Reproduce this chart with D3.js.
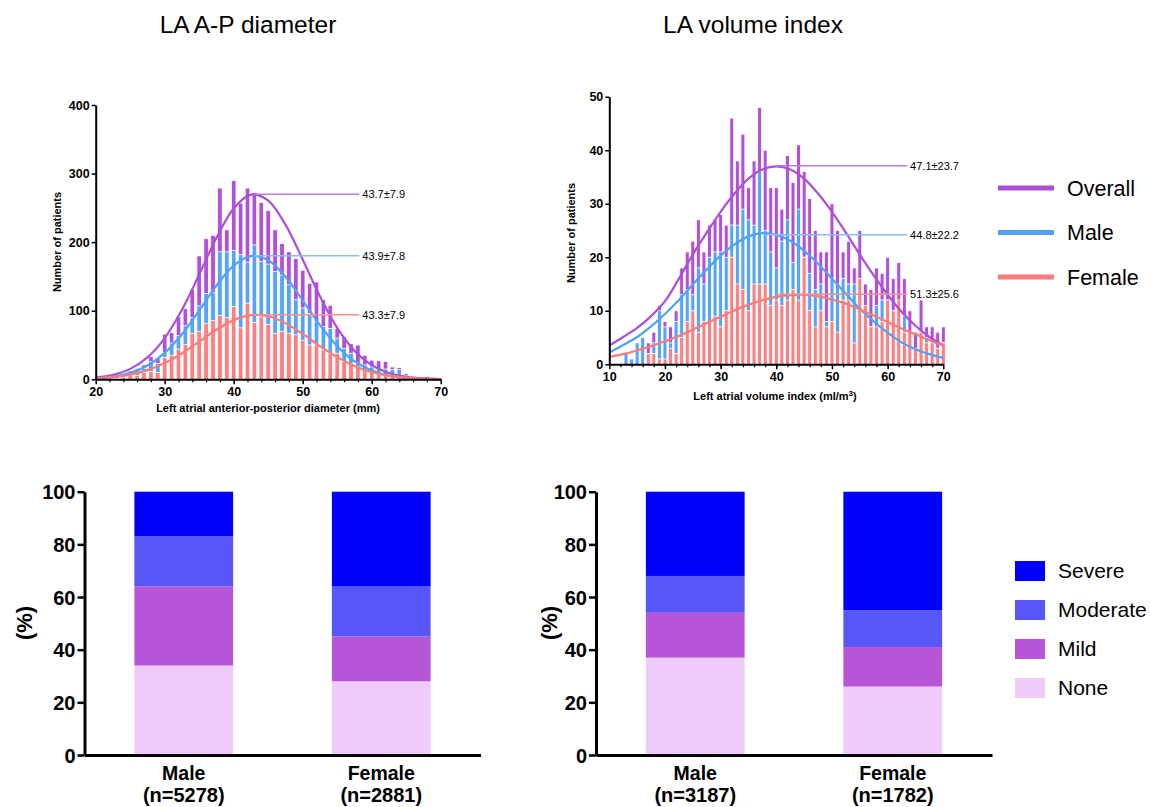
<!DOCTYPE html>
<html>
<head>
<meta charset="utf-8">
<script src="https://cdn.jsdelivr.net/npm/d3@7/dist/d3.min.js"></script>
<style>
body { margin: 0; background: #fff; }
svg { font-family: "Liberation Sans", Arial, Helvetica, sans-serif; }
</style>
</head>
<body>
<svg width="1151" height="807"></svg>
<script>
var svg = d3.select('svg');

// ---- LA A-P diameter histogram (patients per 1 mm bin) ----
var apBins    = [20,21,22,23,24,25,26,27,28,29,30,31,32,33,34,35,36,37,38,39,40,41,42,43,44,45,46,47,48,49,50,51,52,53,54,55,56,57,58,59,60,61,62,63,64,65,66,67,68,69,70];
var apOverall = [3,3,4,5,7,12,16,21,33,31,66,68,91,103,131,180,205,210,279,218,290,257,279,272,258,246,218,198,186,176,159,140,142,116,108,74,62,52,50,35,28,27,26,18,17,8,5,4,5,3,2];
var apMale    = [2,2,3,4,5,7,14,16,26,23,39,53,64,78,90,107,125,126,186,186,188,182,171,196,172,168,157,152,138,116,104,96,84,77,74,60,45,38,23,21,18,15,15,14,14,5,4,3,4,2,1];
var apFemale  = [1,1,1,1,2,6,6,10,11,10,32,35,44,51,67,70,81,86,93,90,106,75,111,83,91,80,67,70,67,65,57,50,50,43,38,38,26,23,18,14,11,8,6,5,4,3,2,1,1,1,1];

// fitted normal curves
var apFitX       = [20,22.5,25,27.5,30,32.5,35,37.5,40,42.5,45,47.5,50,52.5,55,57.5,60,62.5,65,67.5,70];
var apFitOverall = [2.4,6.4,15.2,31.9,60.1,101.3,152.8,206.3,249.2,269.4,260.6,225.5,174.6,121.1,75,41.7,20.7,9.2,3.7,1.3,0.4];
var apFitMale    = [1.4,3.9,9.3,20.1,38.5,65.8,100.3,136.6,165.8,179.6,173.5,149.6,115,78.9,48.3,26.4,12.9,5.6,2.2,0.8,0.2];
var apFitFemale  = [1.4,3.2,6.9,13.4,23.6,37.8,54.9,72.3,86.3,93.5,91.9,81.9,66.2,48.5,32.3,19.5,10.6,5.3,2.4,1,0.4];
var apPeakX   = [43, 43, 42.8];
var apPeakY   = [270, 180, 94];
var apStats   = ["43.7±7.9", "43.9±7.8", "43.3±7.9"];

// ---- LA volume index histogram (patients per 1 ml/m2 bin) ----
var laviBins    = [10,11,12,13,14,15,16,17,18,19,20,21,22,23,24,25,26,27,28,29,30,31,32,33,34,35,36,37,38,39,40,41,42,43,44,45,46,47,48,49,50,51,52,53,54,55,56,57,58,59,60,61,62,63,64,65,66,67,68,69,70];
var laviOverall = [0,0,0,2,1,4,5,4,6,11,8,7,10,18,21,23,27,21,26,27,28,26,46,38,43,33,38,48,40,33,33,29,39,34,41,36,31,25,21,21,30,25,21,23,18,25,15,14,18,17,20,16,19,16,10,6,12,7,7,6,7];
var laviMale    = [0,0,0,2,1,4,5,2,4,10,7,4,8,13,14,13,18,15,20,21,21,20,26,26,29,27,26,36,25,21,18,23,27,19,29,20,17,14,15,8,16,15,16,15,15,12,9,7,11,12,12,10,11,9,6,3,6,5,4,3,4];
var laviFemale  = [0,0,0,0,0,0,0,2,2,1,1,3,2,5,8,10,6,8,8,9,7,10,20,15,14,10,15,15,15,11,12,11,12,14,12,20,10,7,10,7,8,6,12,12,4,16,11,7,7,8,12,10,12,6,6,3,6,4,4,3,4];

var laviFitX       = [10,12.5,15,17.5,20,22.5,25,27.5,30,32.5,35,37.5,40,42.5,45,47.5,50,52.5,55,57.5,60,62.5,65,67.5,70];
var laviFitOverall = [3.5,5.1,6.8,9,11.8,16,20.5,24.6,28.5,31.9,34.7,36.4,37,36.4,34.7,31.9,28.5,24.6,20.5,16.6,13,9.8,7.2,5.1,3.5];
var laviFitMale    = [2.2,3.6,5.1,7.1,9.4,12,14.9,17.7,20.3,22.4,23.9,24.5,24.2,23.1,21.2,18.8,16,13.2,10.4,8,5.9,4.1,2.8,1.9,1.2];
var laviFitFemale  = [1.4,1.9,2.6,3.4,4.3,5.3,6.5,7.7,8.9,10.1,11.1,12,12.6,12.9,13,12.7,12.1,11.3,10.3,9.1,7.9,6.7,5.6,4.5,3.5];
var laviPeakX  = [40, 38, 40];
var laviPeakY  = [37.1, 24.2, 13.1];
var laviStats  = ["47.1±23.7", "44.8±22.2", "51.3±25.6"];

var seriesNames = ["Overall", "Male", "Female"];

// ---- LA enlargement grades (%) ----
var groups     = ["Male", "Female"];
var grades     = ["None", "Mild", "Moderate", "Severe"];
var apN        = ["(n=5278)", "(n=2881)"];
var apMalePct  = [34, 30, 19, 17];
var apFemPct   = [28, 17, 19, 36];
var laviN      = ["(n=3187)", "(n=1782)"];
var laviMalePct = [37, 17, 14, 32];
var laviFemPct  = [26, 15, 14, 45];

var barColors  = ["#b052d8", "#55a4f7", "#fd7f7f"];
var lineColors = ["#ac4fd6", "#4fa2f5", "#fb7a7a"];
var tagColors  = ["#c179e4", "#86bff9", "#ff8d8d"];
var gradeColors = { None: "#eecbf8", Mild: "#b755d8", Moderate: "#5757f8", Severe: "#0000fc" };

// titles
svg.append("text").attr("x", 248).attr("y", 33).attr("text-anchor", "middle")
    .style("font-size", "24.5px").text("LA A-P diameter");
svg.append("text").attr("x", 753).attr("y", 33).attr("text-anchor", "middle")
    .style("font-size", "24.5px").text("LA volume index");

function drawHist(o) {
    var x = d3.scaleLinear().domain(o.xDomain).range(o.xRange);
    var y = d3.scaleLinear().domain(o.yDomain).range(o.yRange);
    var g = svg.append("g");
    var series = [o.overall, o.male, o.female];

    series.forEach(function (vals, si) {
        g.append("g").selectAll("rect")
            .data(o.bins.map(function (b, i) { return { b: b, v: vals[i] }; }).filter(function (d) { return d.v > 0; }))
            .enter().append("rect")
            .attr("x", function (d) { return x(d.b) - o.bw / 2; })
            .attr("y", function (d) { return y(d.v); })
            .attr("width", o.bw)
            .attr("height", function (d) { return y(0) - y(d.v); })
            .attr("fill", barColors[si])
            .attr("stroke", "#fff")
            .attr("stroke-width", 0.8);
    });

    var line = d3.line().x(function (d) { return x(d[0]); }).y(function (d) { return y(d[1]); })
        .curve(d3.curveCatmullRom);
    [o.fitOverall, o.fitMale, o.fitFemale].forEach(function (vals, si) {
        g.append("path")
            .datum(o.fitX.map(function (v, i) { return [v, vals[i]]; }))
            .attr("d", line)
            .attr("fill", "none")
            .attr("stroke", lineColors[si])
            .attr("stroke-width", 2.2);
    });

    // mean ± SD tags
    o.peakX.forEach(function (px, i) {
        g.append("line")
            .attr("x1", x(px)).attr("x2", x(o.tagEnd))
            .attr("y1", y(o.peakY[i])).attr("y2", y(o.peakY[i]))
            .attr("stroke", tagColors[i]).attr("stroke-width", 1.5);
        g.append("text")
            .attr("x", x(o.tagEnd) + 3).attr("y", y(o.peakY[i])).attr("dy", "0.35em")
            .style("font-size", "11px").text(o.stats[i]);
    });

    var xMinor = g.append("g").attr("transform", "translate(0," + y(0) + ")")
        .call(d3.axisBottom(x).tickValues(o.minorTicks).tickSize(3).tickFormat(""));
    xMinor.select(".domain").remove();
    xMinor.selectAll("line").attr("stroke-width", 1.2);

    var xAxis = g.append("g").attr("transform", "translate(0," + y(0) + ")")
        .call(d3.axisBottom(x).tickValues(o.xTicks).tickSize(5).tickPadding(3).tickSizeOuter(0));
    var yAxis = g.append("g").attr("transform", "translate(" + x(o.xDomain[0]) + ",0)")
        .call(d3.axisLeft(y).tickValues(o.yTicks).tickSize(4).tickPadding(2).tickSizeOuter(0));
    [xAxis, yAxis].forEach(function (a) {
        a.select(".domain").attr("stroke-width", 2);
        a.selectAll(".tick line").attr("stroke-width", 1.5);
        a.selectAll("text").style("font-size", "12.5px").style("font-weight", "bold")
            .style("font-family", "'Liberation Sans', Arial, sans-serif").attr("fill", "#000");
    });

    g.append("text")
        .attr("transform", "translate(" + o.yTitleX + "," + o.yTitleY + ") rotate(-90)")
        .attr("text-anchor", "middle")
        .style("font-size", "11px").style("font-weight", "bold")
        .text("Number of patients");
    var xt = g.append("text")
        .attr("x", o.xTitleX).attr("y", o.xTitleY).attr("text-anchor", "middle")
        .style("font-size", "11px").style("font-weight", "bold");
    o.xTitle(xt);
}

drawHist({
    bins: apBins, overall: apOverall, male: apMale, female: apFemale,
    fitX: apFitX, fitOverall: apFitOverall, fitMale: apFitMale, fitFemale: apFitFemale,
    peakX: apPeakX, peakY: apPeakY, stats: apStats, tagEnd: 58.2,
    xDomain: [20, 70], xRange: [95.7, 440.7], yDomain: [0, 400], yRange: [379.3, 105],
    xTicks: [20, 30, 40, 50, 60, 70], yTicks: [0, 100, 200, 300, 400],
    minorTicks: d3.range(22, 70, 2), bw: 4.6,
    yTitleX: 61, yTitleY: 242, xTitleX: 268, xTitleY: 412,
    xTitle: function (t) { t.text("Left atrial anterior-posterior diameter (mm)"); }
});

drawHist({
    bins: laviBins, overall: laviOverall, male: laviMale, female: laviFemale,
    fitX: laviFitX, fitOverall: laviFitOverall, fitMale: laviFitMale, fitFemale: laviFitFemale,
    peakX: laviPeakX, peakY: laviPeakY, stats: laviStats, tagEnd: 63.5,
    xDomain: [10, 70], xRange: [609.3, 943.3], yDomain: [0, 50], yRange: [364.3, 96.7],
    xTicks: [10, 20, 30, 40, 50, 60, 70], yTicks: [0, 10, 20, 30, 40, 50],
    minorTicks: d3.range(12, 70, 2), bw: 3.9,
    yTitleX: 575, yTitleY: 233, xTitleX: 775, xTitleY: 400,
    xTitle: function (t) {
        t.append("tspan").text("Left atrial volume index (ml/m");
        t.append("tspan").attr("dy", -4).style("font-size", "8px").text("3");
        t.append("tspan").attr("dy", 4).text(")");
    }
});

// top legend
seriesNames.forEach(function (name, i) {
    var yy = 188 + i * 44.5;
    svg.append("line").attr("x1", 998).attr("x2", 1054).attr("y1", yy).attr("y2", yy)
        .attr("stroke", lineColors[i]).attr("stroke-width", 5);
    svg.append("text").attr("x", 1067).attr("y", yy).attr("dy", "0.35em")
        .style("font-size", "21.5px").text(name);
});

function drawStack(o) {
    var x = d3.scaleBand().domain(groups).range(o.xRange).paddingInner(0.5).paddingOuter(0.2525);
    var y = d3.scaleLinear().domain([0, 100]).range([755, 491.7]);
    var g = svg.append("g");
    var rows = groups.map(function (grp, gi) {
        var r = { group: grp };
        grades.forEach(function (gr, k) { r[gr] = o.pct[gi][k]; });
        return r;
    });
    var stacked = d3.stack().keys(grades)(rows);
    stacked.forEach(function (layer) {
        g.append("g").selectAll("rect").data(layer).enter().append("rect")
            .attr("x", function (d) { return x(d.data.group); })
            .attr("width", x.bandwidth())
            .attr("y", function (d) { return y(d[1]); })
            .attr("height", function (d) { return y(d[0]) - y(d[1]); })
            .attr("fill", gradeColors[layer.key]);
    });

    var yAxis = g.append("g").attr("transform", "translate(" + o.xRange[0] + ",0)")
        .call(d3.axisLeft(y).tickValues([0, 20, 40, 60, 80, 100]).tickSize(7).tickPadding(2).tickSizeOuter(0));
    var xAxis = g.append("g").attr("transform", "translate(0," + y(0) + ")")
        .call(d3.axisBottom(x).tickSize(0).tickFormat(""));
    [xAxis, yAxis].forEach(function (a) {
        a.select(".domain").attr("stroke-width", 3);
        a.selectAll(".tick line").attr("stroke-width", 2.5);
    });
    yAxis.selectAll("text").style("font-size", "20px").style("font-weight", "bold")
        .style("font-family", "'Liberation Sans', Arial, sans-serif").attr("fill", "#000").attr("dy", "0.36em");

    groups.forEach(function (grp, gi) {
        var cx = x(grp) + x.bandwidth() / 2;
        g.append("text").attr("x", cx).attr("y", 780).attr("text-anchor", "middle")
            .style("font-size", "19.5px").style("font-weight", "bold").text(grp);
        g.append("text").attr("x", cx).attr("y", 802).attr("text-anchor", "middle")
            .style("font-size", "20px").style("font-weight", "bold").text(o.n[gi]);
    });
    g.append("text")
        .attr("transform", "translate(" + o.pctX + ",623) rotate(-90)")
        .attr("text-anchor", "middle").attr("dy", "0.35em")
        .style("font-size", "22px").style("font-weight", "bold").text("(%)");
}

drawStack({ xRange: [84.5, 480.5], pct: [apMalePct, apFemPct], n: apN, pctX: 24 });
drawStack({ xRange: [596, 992], pct: [laviMalePct, laviFemPct], n: laviN, pctX: 549 });

// bottom legend
grades.slice().reverse().forEach(function (gr, i) {
    var yy = 571 + i * 39;
    svg.append("rect").attr("x", 1015).attr("y", yy - 10).attr("width", 30).attr("height", 20)
        .attr("fill", gradeColors[gr]);
    svg.append("text").attr("x", 1058).attr("y", yy).attr("dy", "0.35em")
        .style("font-size", "21px").text(gr);
});
</script>
</body>
</html>
